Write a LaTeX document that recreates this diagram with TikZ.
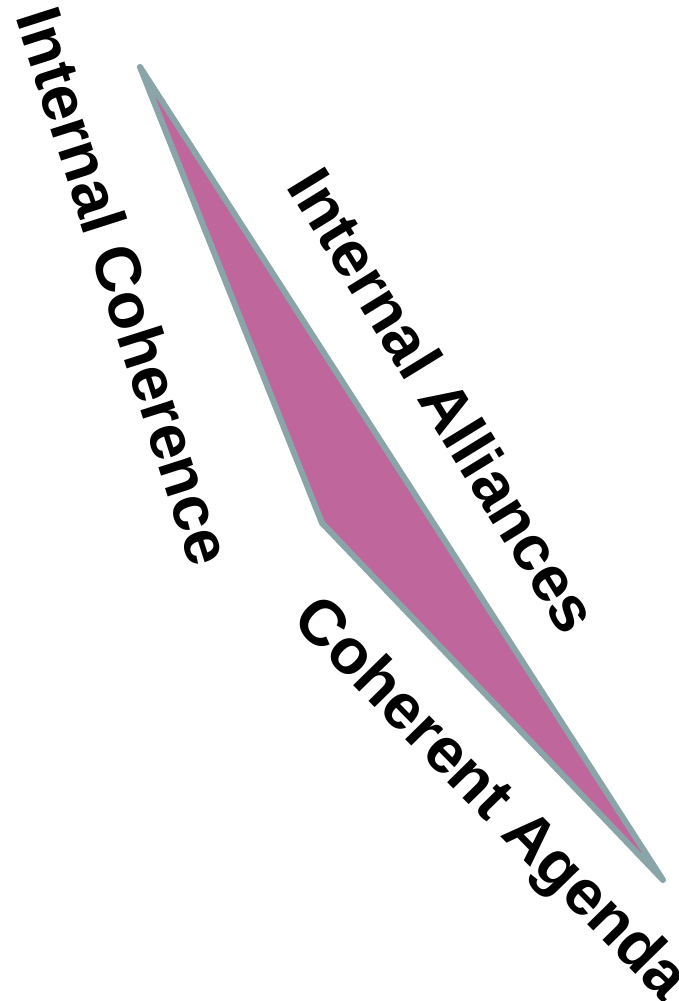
\documentclass[tikz,border=0pt]{standalone}
\usepackage{fontspec}
\setmainfont{Liberation Sans}
\definecolor{wedgepink}{RGB}{191,103,156}
\definecolor{wedgeedge}{RGB}{138,165,167}

\begin{document}
\begin{tikzpicture}[x=1pt, y=-1pt,
    wedge/.style={draw=wedgeedge, fill=wedgepink, line width=6pt, line join=round},
    side/.style={font=\fontsize{64}{64}\selectfont\bfseries, inner sep=0pt, anchor=center}
]
    \useasboundingbox (0,0) rectangle (679,1001);

    % Triangle corners
    \coordinate (top) at (140,67);
    \coordinate (mid) at (322,523);
    \coordinate (bot) at (663,880);
    \draw[wedge] (top) -- (mid) -- (bot) -- cycle;

    % Side labels
    \node[side, rotate=-72.3] (coh) at (125,286) {Internal Coherence};
    \node[side, rotate=-58.4] (all) at (444,400) {Internal Alliances};
    \node[side, rotate=-45.6] (agd) at (489,801) {Coherent Agenda};
\end{tikzpicture}
\end{document}
